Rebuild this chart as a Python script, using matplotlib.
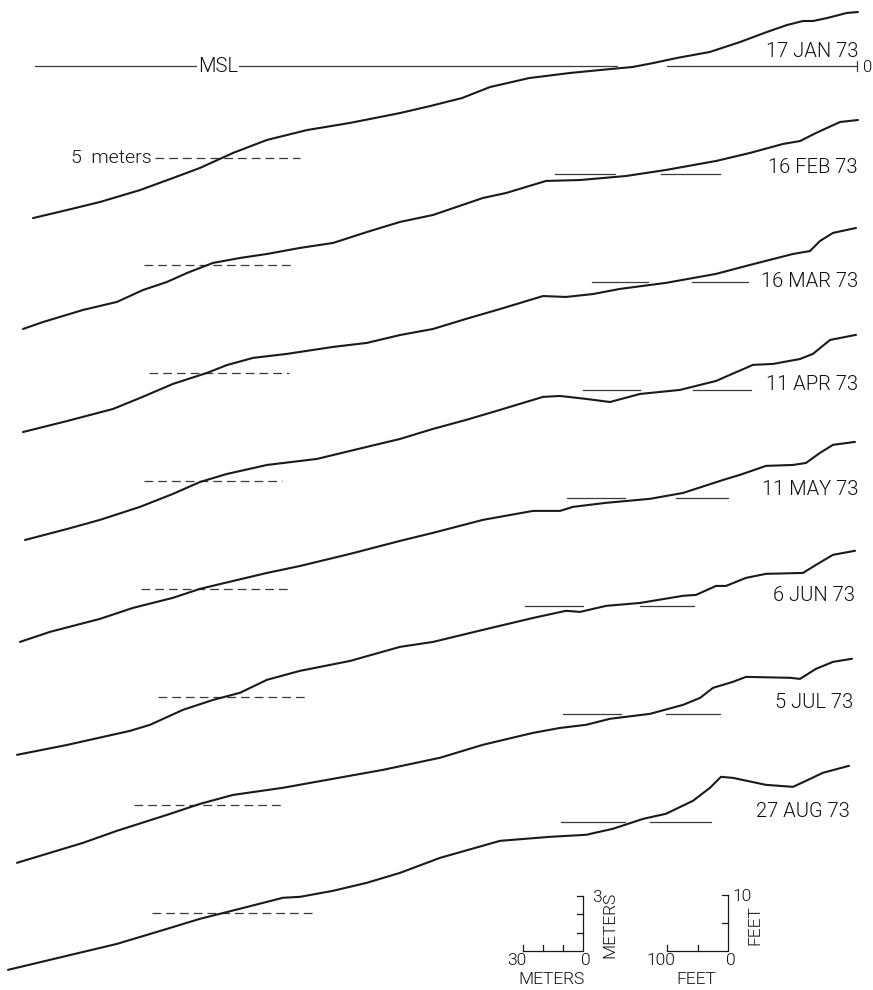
import matplotlib
matplotlib.use("Agg")
import matplotlib.pyplot as plt

plt.rcParams['font.family'] = ['Roboto', 'DejaVu Sans']
plt.rcParams['font.weight'] = 300

# ---------------- data (distance seaward of benchmark in m, elevation re MSL in m) -------------
dates = ["17 JAN 73", "16 FEB 73", "16 MAR 73", "11 APR 73",
         "11 MAY 73", "6 JUN 73", "5 JUL 73", "27 AUG 73"]

dist_jan = [412.5, 395.5, 379, 359, 342.5, 329, 312.5, 295.5, 275.5, 254, 229, 214, 198, 184,
            164.5, 144, 129, 112.5, 102.5, 90.5, 74, 59, 45.5, 35.5, 27.5, 22.5, 15.5, 5.5, 0]
elev_jan = [-8.31, -7.87, -7.43, -6.78, -6.12, -5.57, -4.75, -4.04, -3.50, -3.11, -2.57, -2.19,
            -1.75, -1.15, -0.66, -0.38, -0.22, -0.05, 0.16, 0.44, 0.77, 1.31, 1.86, 2.24, 2.46,
            2.46, 2.62, 2.90, 2.95]

dist_feb = [417.5, 407.5, 387.5, 370.5, 357.5, 345.5, 335.5, 322.5, 309, 295.5, 279, 262.5, 245.5,
            229, 212.5, 187.5, 176, 156, 139, 116, 96, 71, 54, 37.5, 29, 21, 9, 0]
elev_feb = [-8.47, -8.09, -7.43, -6.99, -6.34, -5.90, -5.41, -4.86, -4.59, -4.37, -4.04, -3.77,
            -3.17, -2.62, -2.24, -1.31, -1.04, -0.38, -0.33, -0.11, 0.22, 0.71, 1.15, 1.64, 1.80,
            2.24, 2.84, 2.95]

dist_mar = [417.5, 395.5, 372.5, 359, 342.5, 325.5, 315.5, 302.5, 285.5, 262.5, 245.5, 229, 212.5,
            196, 179, 157.5, 146, 132.5, 119, 96, 71, 54, 32.5, 24, 19, 12.5, 1]
elev_mar = [-8.20, -7.60, -6.94, -6.34, -5.57, -4.97, -4.54, -4.15, -3.93, -3.55, -3.33, -2.90,
            -2.57, -2.02, -1.48, -0.77, -0.82, -0.66, -0.38, -0.05, 0.44, 0.93, 1.53, 1.69, 2.24,
            2.68, 2.95]

dist_apr = [416.5, 395.5, 379, 359, 342.5, 329, 315.5, 295.5, 270.5, 245.5, 229, 212.5, 196, 179,
            157.5, 149, 136, 124, 109, 89, 71, 52.5, 42.5, 29, 22.5, 14, 1]
elev_apr = [-8.20, -7.60, -7.10, -6.39, -5.68, -5.03, -4.59, -4.10, -3.77, -3.11, -2.68, -2.13,
            -1.64, -1.09, -0.38, -0.33, -0.49, -0.66, -0.22, 0.00, 0.49, 1.37, 1.42, 1.69, 1.97,
            2.73, 3.01]

dist_may = [419, 404, 379, 362.5, 342.5, 329, 312.5, 295.5, 279, 254, 229, 212.5, 187.5, 162.5,
            149, 142.5, 126, 104, 87.5, 67.5, 59, 46, 32.5, 26, 19, 12.5, 1.5]
elev_may = [-7.87, -7.32, -6.61, -6.01, -5.46, -4.97, -4.54, -4.10, -3.72, -3.06, -2.35, -1.91,
            -1.20, -0.71, -0.71, -0.49, -0.27, -0.05, 0.27, 0.98, 1.26, 1.75, 1.80, 1.91, 2.46,
            2.90, 3.06]

dist_jun = [420.5, 395.5, 364, 354, 337.5, 322.5, 309, 295.5, 279, 254, 229, 212.5, 187.5, 162.5,
            146, 139, 126, 109, 87.5, 81, 71, 66, 56, 46, 27.5, 21, 12.5, 1.5]
elev_jun = [-8.14, -7.60, -6.83, -6.50, -5.68, -5.14, -4.75, -4.04, -3.55, -3.01, -2.24, -1.97,
            -1.31, -0.66, -0.27, -0.33, 0.00, 0.16, 0.55, 0.60, 1.09, 1.09, 1.53, 1.75, 1.80,
            2.24, 2.79, 3.01]

dist_jul = [420.5, 387.5, 370.5, 345.5, 329, 312.5, 287.5, 262.5, 237.5, 209, 187.5, 162.5, 149,
            136, 124, 104, 87.5, 79, 72.5, 62.5, 56, 34, 29, 21, 12.5, 3]
elev_jul = [-8.14, -7.05, -6.39, -5.52, -4.92, -4.43, -4.04, -3.55, -3.06, -2.40, -1.69, -1.04,
            -0.77, -0.60, -0.27, 0.00, 0.49, 0.87, 1.42, 1.75, 2.02, 1.97, 1.91, 2.46, 2.84, 3.01]

dist_aug = [425, 395.5, 370.5, 345.5, 329, 309, 287.5, 279, 262.5, 245.5, 229, 209, 179, 154,
            136, 122.5, 107.5, 96, 82.5, 74, 68.5, 62.5, 46, 32.5, 26, 17.5, 4.5]
elev_aug = [-8.09, -7.32, -6.67, -5.85, -5.30, -4.75, -4.15, -4.10, -3.77, -3.33, -2.79, -1.97,
            -1.04, -0.82, -0.71, -0.38, 0.16, 0.44, 1.15, 1.86, 2.46, 2.40, 2.02, 1.91, 2.24,
            2.68, 3.06]

distances = [dist_jan, dist_feb, dist_mar, dist_apr, dist_may, dist_jun, dist_jul, dist_aug]
elevations = [elev_jan, elev_feb, elev_mar, elev_apr, elev_may, elev_jun, elev_jul, elev_aug]

# MSL marks (two pieces per profile) and 5-m depth marks, distances in m
msl_left_start = [411.5, 151.5, 133, 137.5, 145.5, 166.5, 147.5, 148.5]
msl_left_end = [120.5, 121.5, 105, 109, 116.5, 137.5, 118.5, 116.5]
msl_right_start = [95.5, 98.5, 83, 82.5, 91, 109, 96, 104]
msl_right_end = [0.5, 69, 55, 53.5, 65, 82, 69, 73.5]
depth5_start = [351.5, 357, 354.5, 357, 358.5, 350, 362, 353]
depth5_end = [279, 283, 284.5, 288, 283, 275.5, 287.5, 272.5]
depth_level = -5.0

# ---------------- layout ----------------
spacing = 5.9           # vertical offset between profiles (m on the drawing)
label_right = [0, 0, 0, 0, 0, 1.5, 2.5, 4]
label_base = [0.51, 0.07, -0.27, 0.0, 0.16, 0.27, 0.33, 0.27]

fig = plt.figure(figsize=(8.73, 9.90), dpi=100)
ax = fig.add_axes([0, 0, 1, 1])
ax.set_xlim(429, -7.5)
ax.set_ylim(-50.49, 3.607)
ax.axis('off')

ink = '#1a1a1a'
txt = '#111111'
for i in range(len(dates)):
    shift = -i * spacing
    ax.plot(distances[i], [e + shift for e in elevations[i]], color=ink, lw=1.5,
            solid_joinstyle='round', solid_capstyle='round', zorder=3)
    ax.plot([msl_left_start[i], msl_left_end[i]], [shift, shift], color='#3a3a3a', lw=0.9, zorder=1)
    ax.plot([msl_right_start[i], msl_right_end[i]], [shift, shift], color='#3a3a3a', lw=0.9, zorder=1)
    ax.plot([depth5_start[i], depth5_end[i]], [shift + depth_level] * 2, color='#3a3a3a',
            lw=0.9, dashes=(7, 4), zorder=1)
    ax.text(label_right[i], shift + label_base[i], dates[i], ha='right', va='baseline',
            fontsize=14.5, color=txt)

# Top-profile annotations
ax.text(320, 0, "MSL", ha='center', va='center', fontsize=14.5, color=txt, zorder=2,
        bbox=dict(facecolor='white', edgecolor='none', pad=0.5))
ax.plot([0.5, 0.5], [-0.3, 0.3], color='#3a3a3a', lw=0.9)
ax.text(-2.5, -0.1, "0", ha='left', va='center', fontsize=12, color=txt)
ax.text(353, depth_level, "5  meters", ha='right', va='center', fontsize=14, color=txt)

# ---------------- scale bars ----------------
bar_y = -48.36
tick_h = 0.33
tick_w = 3.0

def scale_bar(x0, length, ticks_x, height, ticks_y, lab_h, lab_v, units):
    ax.plot([x0 + length, x0, x0], [bar_y, bar_y, bar_y + height], color=ink, lw=0.9)
    for t in ticks_x:
        ax.plot([x0 + t, x0 + t], [bar_y, bar_y + tick_h], color=ink, lw=0.9)
    for t in ticks_y:
        ax.plot([x0, x0 + tick_w], [bar_y + t, bar_y + t], color=ink, lw=0.9)
    ax.text(x0 + length + 3, bar_y - 0.5, lab_h, ha='center', va='center', fontsize=12.5, color=txt)
    ax.text(x0 - 1.5, bar_y - 0.5, "0", ha='center', va='center', fontsize=12.5, color=txt)
    ax.text(x0 + length / 2 + 0.5, bar_y - 1.53, units, ha='center', va='center', fontsize=12.5,
            color=txt)
    ax.text(x0 - 7, bar_y + height - 0.05, lab_v, ha='center', va='center', fontsize=12.5, color=txt)
    ax.text(x0 - 13.5, bar_y + 1.42, units, ha='center', va='center', rotation=90, fontsize=12.5,
            color=txt)

scale_bar(137.5, 30, [10, 20, 30], 3.0, [1, 2, 3], "30", "3", "METERS")
ft = 0.3048
scale_bar(65, 100 * ft, [50 * ft, 100 * ft], 10 * ft, [5 * ft, 10 * ft], "100", "10", "FEET")

fig.savefig("out.png", dpi=100)
